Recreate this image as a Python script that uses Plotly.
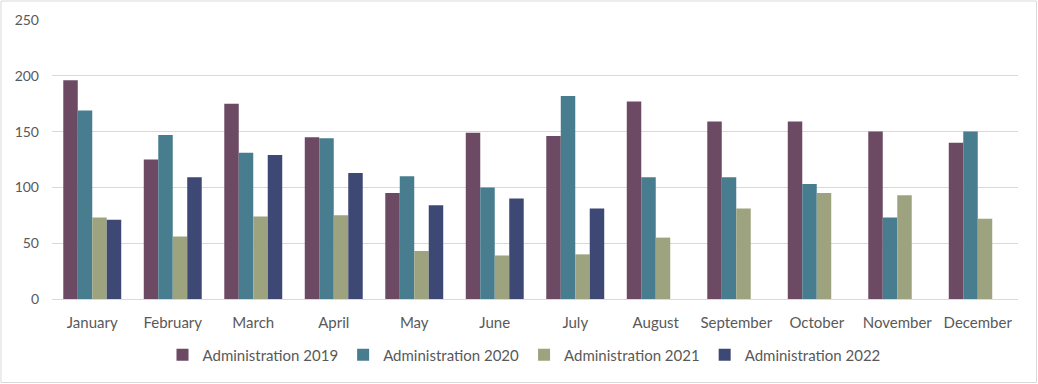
import plotly.graph_objects as go

months = ["January", "February", "March", "April", "May", "June", "July",
          "August", "September", "October", "November", "December"]
series_names = ["Administration 2019", "Administration 2020", "Administration 2021", "Administration 2022"]
admin_2019 = [196, 125, 175, 145, 95, 149, 146, 177, 159, 159, 150, 140]
admin_2020 = [169, 147, 131, 144, 110, 100, 182, 109, 109, 103, 73, 150]
admin_2021 = [73, 56, 74, 75, 43, 39, 40, 55, 81, 95, 93, 72]
admin_2022 = [71, 109, 129, 113, 84, 90, 81, None, None, None, None, None]
colors = ["#6D4A63", "#477D8E", "#9DA37E", "#3D4874"]

W, H = 1038, 384
ml, mr, mt, mb = 52, 20, 20, 85
pw, ph = W - ml - mr, H - mt - mb

fig = go.Figure()
for name, vals, c in zip(series_names, [admin_2019, admin_2020, admin_2021, admin_2022], colors):
    fig.add_trace(go.Bar(x=months, y=vals, name=name, marker=dict(color=c, line=dict(width=0))))

font_family = "Lato, 'Open Sans', sans-serif"
fig.update_layout(
    width=W, height=H,
    margin=dict(l=ml, r=mr, t=mt, b=mb, autoexpand=False),
    paper_bgcolor="white", plot_bgcolor="white",
    barmode="group", bargap=0.28, bargroupgap=0,
    font=dict(family=font_family, size=15, color="#595959"),
    showlegend=True,
    legend=dict(orientation="h", x=0.5 + 5 / W, xanchor="center", xref="container",
                y=1 - 355 / H, yanchor="middle", yref="container",
                bgcolor="rgba(0,0,0,0)",
                font=dict(size=15, color="#595959"), itemwidth=30, traceorder="normal"),
    xaxis=dict(showgrid=False, showline=True, linecolor="#D9D9D9", linewidth=1,
               ticks="", automargin=False, ticklabelstandoff=10,
               tickfont=dict(size=15, color="#595959")),
    yaxis=dict(range=[0, 250], dtick=50, showgrid=True, gridcolor="#D9D9D9", gridwidth=1,
               zeroline=False, showline=False, ticks="", automargin=False,
               ticklabelstandoff=12,
               tickfont=dict(size=14, color="#595959")),
    shapes=[dict(type="rect", xref="paper", yref="paper",
                 x0=-(ml - 1) / pw, x1=1 + (mr - 1.5) / pw,
                 y0=-(mb - 1.5) / ph, y1=1 + (mt - 1) / ph,
                 line=dict(color="#D9D9D9", width=1), fillcolor="rgba(0,0,0,0)", layer="below")],
)

fig.write_html("out.html", config={"displayModeBar": False},
               post_script="document.body.style.margin='0';document.body.style.padding='0';")
